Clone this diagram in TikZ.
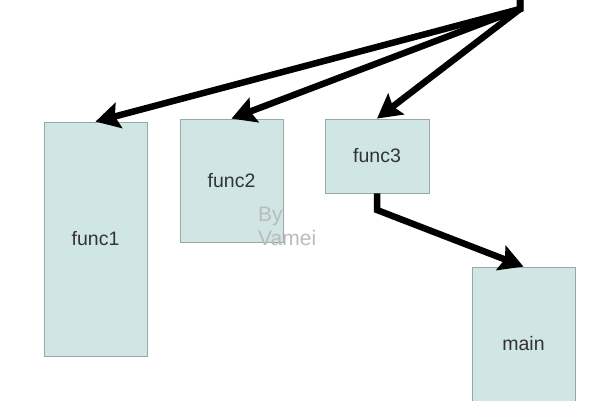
\documentclass[tikz,border=0pt]{standalone}
\usepackage{fontspec}
\setmainfont{Liberation Sans}
\usepackage{tikz}
\usetikzlibrary{arrows.meta,positioning}
\definecolor{boxfill}{HTML}{CFE6E4}
\definecolor{boxline}{HTML}{98A6A4}
\definecolor{labtext}{HTML}{333333}
\definecolor{wmgray}{HTML}{BBBBBB}

\begin{document}
\begin{tikzpicture}[x=1pt,y=-1pt,
  fbox/.style={draw=boxline, fill=boxfill, line width=0.8pt, inner sep=0pt,
    text=labtext, font=\fontsize{19.5}{22}\selectfont},
  conn/.style={line width=6.5pt, -{Stealth[length=24pt,width=26pt,inset=4pt]}}]
\useasboundingbox (0,0) rectangle (600,400);
\clip (0,0) rectangle (600,400);
% the four functions
\node[fbox, minimum width=103pt, minimum height=234pt] (func1) at (95.5,239) {func1};
\node[fbox, minimum width=103pt, minimum height=123pt] (func2) at (231.5,180.5) {func2};
\node[fbox, minimum width=104pt, minimum height=74pt] (func3) at (377,156) {func3};
\node[fbox, minimum width=103pt, minimum height=154pt] (mainbox) at (523.5,344) {main};
% watermark
\node[text=wmgray, anchor=north west, align=left, inner sep=0pt,
  font=\fontsize{21}{24}\selectfont] (wm) at (258,207) {By\\Vamei};
% calls
\coordinate (srctop) at (520,-3);
\coordinate (src) at (520,9);
\coordinate (bend) at (377,210);
\foreach \f in {func1,func2,func3}{
  \draw[conn] (srctop) -- (src) -- (\f.north);
}
\draw[conn] (func3.south) -- (bend) -- (mainbox.north);
\end{tikzpicture}
\end{document}
